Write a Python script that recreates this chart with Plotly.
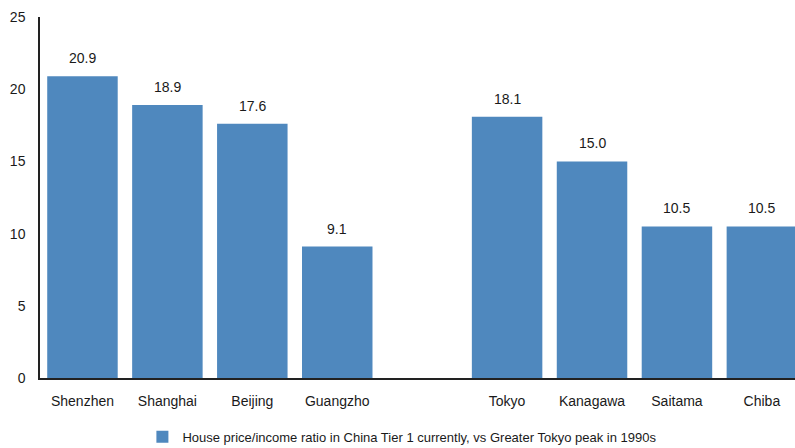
import plotly.graph_objects as go

categories = ["Shenzhen", "Shanghai", "Beijing", "Guangzho", "", "Tokyo", "Kanagawa", "Saitama", "Chiba"]
positions = [0, 1, 2, 3, 5, 6, 7, 8]
values = [20.9, 18.9, 17.6, 9.1, 18.1, 15.0, 10.5, 10.5]
y_ticks = [0, 5, 10, 15, 20, 25]
series_name = "House price/income ratio in China Tier 1 currently, vs Greater Tokyo peak in 1990s"

FONT = "Liberation Sans, Arial, sans-serif"
BAR = "#4F88BE"
TXT = "#1a1a1a"

fig = go.Figure()
fig.add_trace(go.Bar(
    x=positions, y=values, name=series_name,
    marker=dict(color=BAR, line=dict(width=0)),
    width=0.83,
    showlegend=True,
))

for p, v in zip(positions, values):
    fig.add_annotation(x=p, y=v, text=f"{v:.1f}", showarrow=False, yanchor="bottom",
                       yshift=8, font=dict(family=FONT, size=14, color=TXT))

fig.update_layout(
    width=795, height=448,
    margin=dict(l=40, r=0, t=17, b=70),
    paper_bgcolor="white", plot_bgcolor="white",
    font=dict(family=FONT, size=14, color=TXT),
    showlegend=True,
    legend=dict(orientation="h", x=0.48, xanchor="center", yref="container", y=0.025, yanchor="middle",
                font=dict(family=FONT, size=13, color=TXT), itemwidth=30),
    xaxis=dict(
        range=[-0.5, 8.39], tickmode="array", tickvals=list(range(len(categories))), ticktext=categories,
        showline=True, linecolor="#222222", linewidth=1.5, showgrid=False, zeroline=False,
        ticks="", ticklabelstandoff=9, tickfont=dict(family=FONT, size=14, color=TXT),
    ),
    yaxis=dict(
        range=[0, 25], tickmode="array", tickvals=y_ticks,
        showline=True, linecolor="#222222", linewidth=1.5, showgrid=False, zeroline=False,
        ticks="", ticklabelstandoff=10, tickfont=dict(family=FONT, size=14, color=TXT),
    ),
)

fig.write_html("out.html")
